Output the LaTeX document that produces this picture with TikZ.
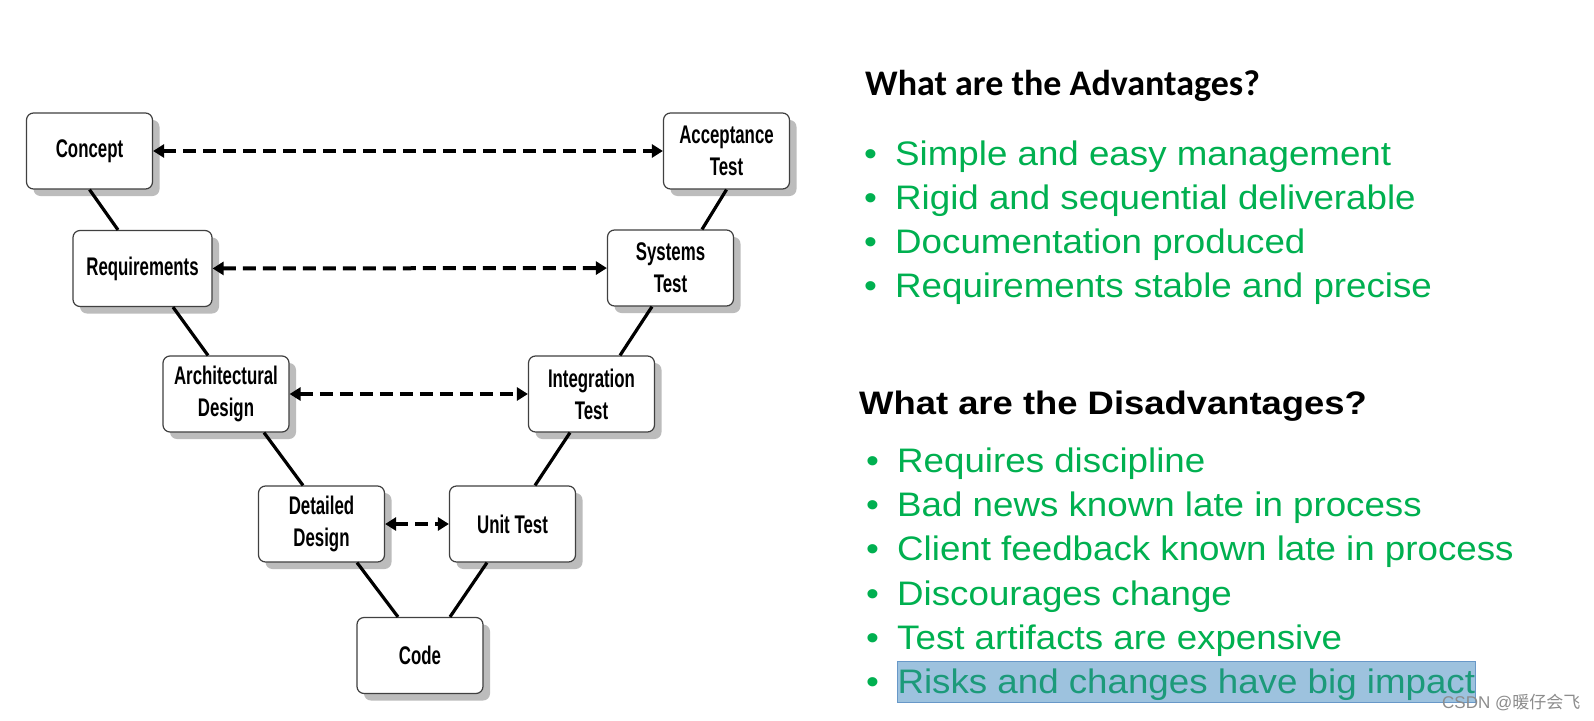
\documentclass[tikz,border=0pt]{standalone}
\usepackage{fontspec}
\setmainfont{Liberation Sans}
\newfontfamily\boxfont[FakeStretch=0.66]{Liberation Sans}
\newfontfamily\itemfont[FakeStretch=1.08]{Liberation Sans}
\newfontfamily\headfont[FakeStretch=1.12]{Liberation Sans}
\newfontfamily\calfont{Carlito}
\newfontfamily\cjkfont{Noto Sans CJK SC}
\usetikzlibrary{arrows.meta,shadows}
\definecolor{itemgreen}{HTML}{00B050}
\definecolor{hlfill}{RGB}{157,194,222}
\definecolor{hlline}{RGB}{104,152,200}
\definecolor{hltext}{RGB}{28,154,122}
\tikzset{
  phase/.style={draw=black!75,line width=1.2pt,fill=white,rounded corners=7pt,
    minimum width=126pt,minimum height=76pt,align=center,inner sep=2pt,
    drop shadow={shadow xshift=7pt,shadow yshift=-7pt,fill=black!52},
    font=\boxfont\bfseries\fontsize{25.5}{32}\selectfont},
  link/.style={line width=3.2pt},
  trace/.style={line width=4pt,dash pattern=on 13pt off 7pt,
    {Triangle[length=11pt,width=13pt]}-{Triangle[length=11pt,width=13pt]}},
  point/.style={anchor=base west,inner sep=0pt,text=itemgreen,
    font=\itemfont\fontsize{34}{40}\selectfont},
  hl/.style={fill=hlfill,draw=hlline,line width=1pt,text=hltext,
    text height=32pt,text depth=8.5pt}
}
\begin{document}
\begin{tikzpicture}[x=1pt,y=-1pt]
\useasboundingbox[fill=white] (0,0) rectangle (1594,720);
\node[phase] (concept) at (89.5,151) {Concept};
\node[phase] (accept) at (726.5,151) {Acceptance\\Test};
\node[phase,minimum width=139pt] (req) at (142.5,268.5) {Requirements};
\node[phase] (sys) at (670.5,268) {Systems\\Test};
\node[phase] (arch) at (226,394) {Architectural\\Design};
\node[phase] (integ) at (591.5,394) {Integration\\Test};
\node[phase] (detail) at (321.5,524) {Detailed\\Design};
\node[phase] (unit) at (512.5,524) {Unit Test};
\node[phase] (code) at (420,655.5) {Code};
\draw[link] (concept.south) -- ([xshift=-24.5pt]req.north);
\draw[link] ([xshift=30.5pt]req.south) -- ([xshift=-18pt]arch.north);
\draw[link] ([xshift=38pt]arch.south) -- ([xshift=-18.5pt]detail.north);
\draw[link] ([xshift=35.5pt]detail.south) -- ([xshift=-22pt]code.north);
\draw[link] (accept.south) -- ([xshift=31.5pt]sys.north);
\draw[link] ([xshift=-18.5pt]sys.south) -- ([xshift=28.5pt]integ.north);
\draw[link] ([xshift=-21.5pt]integ.south) -- ([xshift=22.5pt]unit.north);
\draw[link] ([xshift=-25.5pt]unit.south) -- ([xshift=30pt]code.north);
\draw[trace] (concept) -- (accept);
\draw[trace] (req) -- (sys);
\draw[trace] (arch) -- (integ);
\draw[trace] (detail) -- (unit);
\node[anchor=base west,inner sep=0pt,font=\calfont\bfseries\fontsize{36}{43}\selectfont]
  (advhead) at (865,95) {What are the Advantages?};
\foreach \txt [count=\i] in {Simple and easy management,Rigid and sequential deliverable,
  Documentation produced,Requirements stable and precise}{
  \node[point] (advdot\i) at (864,{165+44.3*(\i-1)}) {\textbullet};
  \node[point] (adv\i) at (895,{165+44.3*(\i-1)}) {\txt};
}
\node[anchor=base west,inner sep=0pt,font=\headfont\bfseries\fontsize{32.5}{39}\selectfont]
  (dishead) at (859,414) {What are the Disadvantages?};
\foreach \txt [count=\i] in {Requires discipline,Bad news known late in process,
  Client feedback known late in process,Discourages change,Test artifacts are expensive}{
  \node[point] (disdot\i) at (866,{472.5+44.2*(\i-1)}) {\textbullet};
  \node[point] (dis\i) at (897,{472.5+44.2*(\i-1)}) {\txt};
}
\node[point] (disdot6) at (866,693.5) {\textbullet};
\node[point,hl] (dis6) at (897,693.5) {Risks and changes have big impact};
\node[anchor=base west,inner sep=0pt,text=black!45,font=\fontsize{17}{20}\selectfont]
  (mark) at (1442,708) {CSDN @{\cjkfont 暖仔会飞}};
\end{tikzpicture}
\end{document}
